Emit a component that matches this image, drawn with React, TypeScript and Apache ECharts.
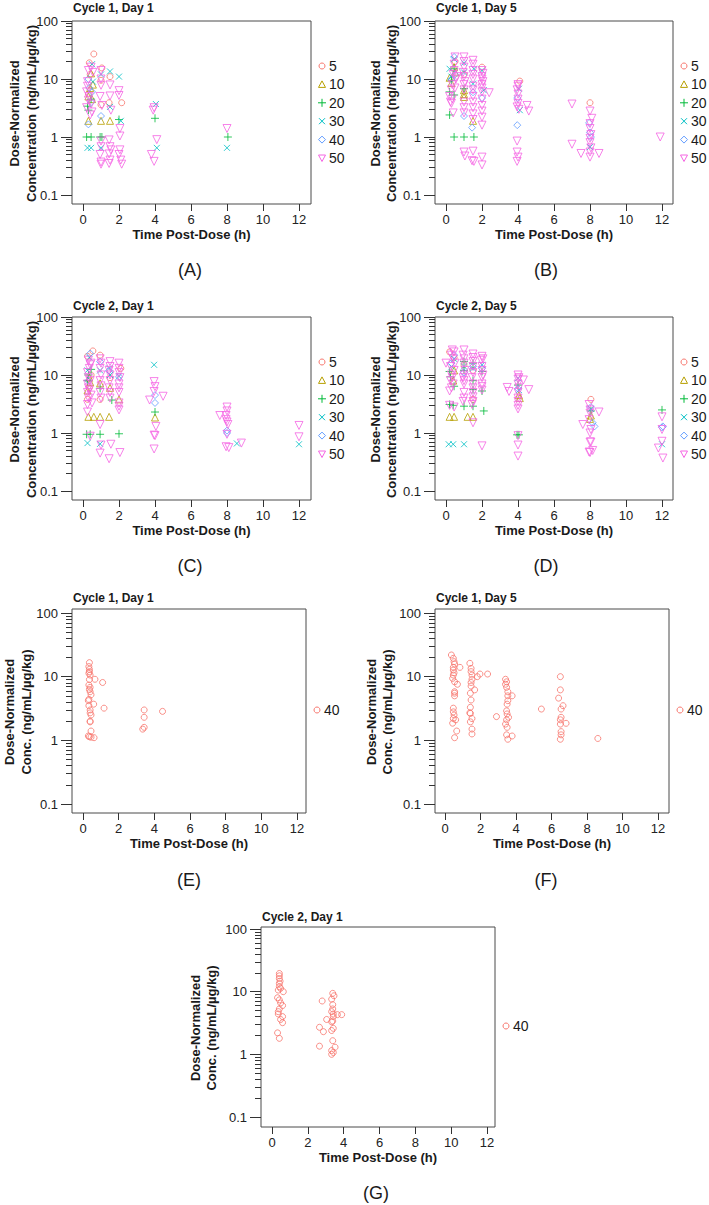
import React, { useEffect, useRef } from "react";
import * as echarts from "echarts";

const DOSES = ["5", "10", "20", "30", "40", "50"];
const DOSE_COLORS = ["#F8766D", "#B79F00", "#00BA38", "#00BFC4", "#619CFF", "#F564E3"];
const SINGLE_DOSE = ["40"];
const SINGLE_COLOR = ["#F8766D"];

// Panel A: Cycle 1, Day 1 (by dose)
const A_5 = [[0.6,27],[0.35,19],[0.4,12],[1.05,15.5],[1.0,9.5],[1.5,11],[1.45,3.9],[2.15,3.9],[0.3,5.5],[1.0,3.6]];
const A_10 = [[0.45,12.5],[0.4,7],[0.3,5],[0.5,4.5],[0.3,1.9],[1.0,1.9],[1.5,1.9],[0.55,8]];
const A_20 = [[0.2,1],[0.45,1],[0.95,1],[1.05,1],[0.3,2.9],[0.25,3.4],[0.45,4.5],[2.0,2],[4.0,2.1],[8.05,1]];
const A_30 = [[0.25,0.65],[0.45,0.65],[0.5,18],[0.55,9],[1.0,12],[1.0,0.65],[1.5,13.5],[1.5,3.3],[2.0,11],[2.1,1.9],[4.05,3.7],[4.1,0.65],[8.0,0.65]];
const A_40 = [[0.3,10],[0.35,7],[0.45,4],[0.5,6],[0.3,1.65],[1.0,2.3]];
const A_50 = [
  [0.3,14],[0.45,16],[0.25,9],[0.2,6],[0.35,5],[0.45,3.7],[0.5,2.7],[0.3,4.3],[0.25,7.5],[0.2,3.2],[0.55,13],[0.4,2.4],
  [1.0,14],[1.0,10],[1.0,7.8],[1.05,3.5],[1.0,0.85],[1.0,0.68],[0.95,0.5],[1.0,0.37],[1.0,0.34],[0.95,5],
  [1.5,7.9],[1.5,5.1],[1.55,2.9],[1.45,0.89],[1.5,0.68],[1.45,0.51],[1.45,0.35],[1.55,0.6],[1.5,0.4],
  [2.0,6.3],[2.0,5.2],[2.05,1.4],[2.05,1.04],[2.05,0.6],[2.1,0.4],[2.15,0.34],[2.0,0.5],
  [3.95,3.2],[3.9,2.9],[4.1,0.9],[3.8,0.5],[3.95,0.38],
  [8.0,1.4]
];

// Panel B: Cycle 1, Day 5
const B_5 = [[0.5,20],[1.0,12],[2.0,16],[4.1,9.2],[8.0,3.9]];
const B_10 = [[0.2,10.5],[0.3,8.5],[0.45,16],[0.5,13],[1.0,6.4],[1.0,4.9],[1.0,5.5],[1.5,1.9]];
const B_20 = [[0.2,2.4],[0.45,1.0],[1.0,1.0],[1.55,1.0],[0.2,6],[0.45,5.3],[0.45,15],[0.3,9.5],[1.0,6.8]];
const B_30 = [[0.2,15],[0.45,22],[0.3,11],[1.0,19],[1.0,13],[1.55,15],[1.5,8.3],[2.0,14],[2.1,6.4],[4.05,6.8],[4.1,2.9],[8.0,0.67]];
const B_40 = [[0.45,24],[0.3,10],[0.5,12],[1.0,2.3],[1.45,1.45],[1.5,5.9],[2.0,4.7],[3.96,4.7],[3.96,1.6],[7.95,1.75],[8.0,1.2],[8.05,1.0]];
const B_50 = [
  [0.2,5],[0.25,4],[0.3,3.8],[0.35,4.5],[0.4,2.6],[0.45,18],[0.5,24],[0.4,12],[0.35,8],[0.3,6.5],[0.55,10],[0.5,7],[0.6,11],[0.45,14],
  [1.0,24],[1.0,20],[1.0,16],[0.95,13],[1.0,11],[1.05,9],[1.0,8],[1.0,6.5],[1.0,4],[1.0,3.2],[1.0,2.6],[1.0,0.55],[1.05,0.47],
  [1.5,21],[1.5,18],[1.5,14],[1.5,12],[1.5,10],[1.5,7.5],[1.5,6.5],[1.5,5],[1.5,4],[1.5,3.2],[1.5,2.5],[1.5,2],[1.5,0.57],[1.45,0.39],[1.55,0.38],
  [2.0,14],[2.05,12.5],[2.0,11],[2.0,10],[2.05,9],[2.0,8],[2.0,7],[2.0,6],[2.0,4.5],[2.0,3.5],[2.0,2.8],[2.0,2.2],[2.0,1.6],[2.0,0.45],[2.0,0.33],[2.4,5.8],
  [4.0,8],[4.0,7.5],[3.95,6.5],[4.0,5.5],[4.0,4.5],[4.0,3.8],[3.95,3.3],[4.05,3],[3.95,0.85],[3.95,0.55],[4.0,0.45],[3.95,0.38],[4.5,3.5],[4.6,2.8],
  [7.0,3.7],[7.0,0.75],[7.5,0.52],
  [8.0,2.8],[8.1,2.1],[8.0,1.7],[8.0,1.4],[8.05,1.1],[8.0,0.95],[8.0,0.8],[8.05,0.65],[8.0,0.55],[8.0,0.45],[8.5,0.52],
  [11.9,1.0]
];

// Panel C: Cycle 2, Day 1
const C_5 = [[0.55,26],[0.25,21],[0.95,22],[0.35,6],[0.25,3.8],[0.95,3.8],[1.5,9],[2.1,13],[0.45,10]];
const C_10 = [[0.25,5.4],[0.4,7.5],[0.3,1.9],[0.6,1.9],[0.95,1.9],[1.45,1.9],[0.95,7.2],[1.5,6],[2.0,3.8],[4.0,1.85],[0.35,9]];
const C_20 = [[0.2,0.95],[0.4,0.95],[0.95,0.95],[2.0,0.97],[0.3,10],[0.45,12.5],[0.95,5.9],[1.6,3.7],[4.0,2.3],[0.25,8]];
const C_30 = [[0.25,0.67],[0.95,0.65],[3.95,15],[0.35,20],[0.95,12],[1.5,10],[2.0,9.5],[8.55,0.66],[12.0,0.64],[0.25,12],[1.45,13]];
const C_40 = [[0.4,23.5],[0.95,17],[1.45,12],[2.0,9.3],[4.0,4.5],[4.0,3.3],[8.0,1.1],[8.0,1.0],[0.3,8]];
const C_50 = [
  [0.3,18],[0.4,15],[0.35,13],[0.25,11],[0.3,9],[0.4,8],[0.25,7],[0.3,6],[0.35,5.5],[0.25,5],[0.45,4.5],[0.3,4],[0.5,3.3],[0.25,3.1],[0.25,2.3],[0.4,0.88],[0.45,16],
  [0.95,19],[1.0,16],[0.95,13],[1.0,10],[0.95,8],[1.0,6.5],[0.95,5],[1.0,4],[0.95,1.4],[1.0,0.62],[0.95,0.45],
  [1.5,17],[1.5,14],[1.45,12],[1.5,10],[1.5,8],[1.45,6],[1.5,5],[1.5,4],[1.55,0.64],[1.45,0.36],
  [2.0,16],[2.0,13],[2.0,11],[2.05,9],[2.0,7],[2.0,6],[2.0,5],[2.0,3.3],[2.0,2.9],[2.0,2.5],[2.05,0.46],
  [3.7,3.7],[3.95,7.7],[4.0,6.3],[3.95,5.2],[4.05,1.3],[3.95,0.92],[4.0,0.9],[3.95,0.53],[4.45,4.3],
  [7.6,2.0],[8.0,2.8],[8.0,2.4],[7.95,2.0],[7.95,1.7],[8.0,1.55],[8.05,1.4],[7.95,0.58],[8.1,0.56],[8.0,0.95],[8.8,0.67],
  [12.0,1.35],[12.0,0.86]
];

// Panel D: Cycle 2, Day 5
const D_5 = [[0.2,25],[0.45,20],[1.0,15],[1.5,3.8],[1.5,12],[8.05,3.8]];
const D_10 = [[0.2,1.9],[0.45,1.9],[1.2,1.9],[1.5,1.9],[0.4,8],[0.45,12],[4.05,4.5],[4.1,4.0],[8.05,2.0],[8.0,1.75]];
const D_20 = [[0.2,11.5],[0.25,9.3],[0.45,6.4],[1.0,17],[1.0,12],[1.5,16],[1.5,8],[1.5,5.6],[2.0,11.5],[2.0,5.3],[2.1,2.4],[0.2,3.1],[0.4,3],[1.0,2.9],[1.5,2.9],[4.0,6.7],[3.95,0.93],[4.05,0.93],[8.05,2.4],[12.0,2.5]];
const D_30 = [[0.15,0.64],[0.4,0.64],[1.0,0.64],[0.45,19],[1.0,14],[1.5,13],[2.0,15],[4.0,8.8],[4.05,5.5],[12.0,0.64],[8.05,2.6],[0.3,14]];
const D_40 = [[0.45,22],[1.0,11],[1.5,14],[2.0,13],[4.0,5.8],[8.05,2.8],[8.15,1.5],[8.25,1.3],[12.0,1.25],[12.05,1.3],[0.3,16]];
const D_50 = [
  [0.0,16],[0.35,27],[0.45,25],[0.3,22],[0.4,19],[0.25,14],[0.45,12],[0.3,10],[0.35,9],[0.25,8],[0.4,7],[0.3,6],[0.2,5.3],[0.2,3],[0.45,2.8],[0.5,16],
  [1.0,27],[0.95,22],[1.0,19],[1.0,16],[1.05,12],[1.0,10],[0.95,9],[1.0,8],[1.0,7],[1.0,5],[1.0,4],[0.95,3.5],
  [1.5,23],[1.5,20],[1.5,17],[1.5,14],[1.5,11],[1.45,9],[1.5,7],[1.5,6],[1.5,5],[1.5,4.2],[1.5,3.5],[1.5,1.5],[1.45,3.1],
  [2.0,21],[2.05,19],[1.95,18],[2.0,14],[2.0,12],[2.05,10],[2.0,9],[2.0,7],[2.0,6.3],[2.0,5.5],[2.0,0.6],
  [4.0,10],[4.05,9],[4.0,8.5],[4.0,7],[4.05,6],[4.0,5],[4.0,4],[4.0,3.5],[4.0,3],[4.0,2.6],[4.0,0.9],[4.0,0.62],[4.0,0.4],[3.4,6.1],[3.5,5.2],[4.6,5.6],[4.3,8.2],
  [7.6,1.4],[7.95,3.1],[8.0,2.5],[8.0,2.2],[7.95,1.7],[8.05,1.15],[8.0,1.0],[8.05,0.7],[8.0,0.7],[7.95,0.47],[8.0,0.46],[8.15,0.5],[8.5,2.3],
  [11.8,0.55],[12.0,1.9],[12.0,1.15],[12.0,0.72],[12.05,0.37]
];

// Panel E: Cycle 1, Day 1 (40)
const E_40 = [[0.36,16.6],[0.33,14.4],[0.36,13],[0.36,12],[0.33,11.3],[0.4,10.6],[0.67,9.1],[1.1,8.1],[0.36,9],[0.33,7.4],[0.4,6.8],[0.36,6.3],[0.4,5.8],[0.45,5.2],[0.6,3.7],[0.33,4.4],[0.3,4.2],[0.33,3.5],[0.4,3.0],[0.4,2.7],[0.45,2.5],[0.4,2.0],[0.4,1.95],[0.45,1.4],[0.3,1.17],[0.36,1.14],[0.45,1.12],[0.62,1.1],[1.18,3.2],[3.43,3.0],[3.43,2.3],[3.43,1.6],[3.35,1.5],[4.46,2.85]];

// Panel F: Cycle 1, Day 5 (40)
const F_40 = [
  [0.36,21.9],[0.47,19.4],[0.51,17.2],[0.54,15.8],[0.47,14],[0.47,12.7],[0.51,11.5],[0.47,10.6],[0.43,9.4],[0.54,8.3],[0.7,7.6],[0.84,14],[0.54,5.8],[0.54,5.5],[0.54,5.0],[0.47,3.2],[0.47,2.8],[0.51,2.5],[0.47,2.2],[0.6,2.1],[0.43,1.86],[0.66,1.4],[0.54,1.1],
  [1.4,16.2],[1.47,13.5],[1.47,12],[1.52,10.6],[1.52,9.1],[1.47,8.1],[1.47,7.1],[1.43,5.5],[1.47,4.3],[1.43,3.3],[1.4,2.7],[1.43,2.65],[1.52,2.2],[1.43,1.95],[1.52,1.5],[1.52,1.26],[1.67,6.2],[1.82,10],[1.97,11],[2.4,11],[2.9,2.36],
  [3.41,9.1],[3.47,8.3],[3.41,7.6],[3.47,6.8],[3.54,5.8],[3.54,5.0],[3.54,4.2],[3.5,3.7],[3.47,2.9],[3.5,2.6],[3.58,2.3],[3.47,2.1],[3.41,1.8],[3.5,1.6],[3.47,1.22],[3.54,1.04],[3.78,1.17],[3.78,5.0],
  [5.43,3.1],
  [6.5,10],[6.5,6.2],[6.4,4.6],[6.65,3.5],[6.54,3.1],[6.54,2.3],[6.5,2.1],[6.5,1.8],[6.82,1.85],[6.54,1.37],[6.54,1.22],[6.5,1.04],
  [8.61,1.07]
];

// Panel G: Cycle 2, Day 1 (40)
const G_40 = [
  [0.41,19.5],[0.41,17.9],[0.41,16.2],[0.45,14.7],[0.41,13.5],[0.41,12],[0.48,11.3],[0.35,10.6],[0.63,10],[0.31,8],[0.41,7.4],[0.48,6.6],[0.59,6.0],[0.59,4.0],[0.41,5.3],[0.35,4.8],[0.35,4.4],[0.48,3.6],[0.59,3.2],[0.31,2.2],[0.41,1.8],
  [2.65,2.7],[2.87,2.3],[2.8,7.1],[2.65,1.35],[3.05,3.6],
  [3.39,9.4],[3.46,8.6],[3.33,7.6],[3.39,6.2],[3.39,5.3],[3.33,4.8],[3.42,4.4],[3.42,4.0],[3.39,3.4],[3.33,3.3],[3.42,2.6],[3.33,2.4],[3.39,1.65],[3.52,1.3],[3.33,1.15],[3.33,1.0],[3.42,1.07],[3.65,4.3],[3.89,4.3]
];

const X_AXIS_TITLE = "Time Post-Dose (h)";
const Y_TITLE_TOP = "Dose-Normalized";
const Y_TITLE_LONG = "Concentration (ng/mL/µg/kg)";
const Y_TITLE_SHORT = "Conc. (ng/mL/µg/kg)";

type Panel = {
  title: string; tag: string; yLine2: string;
  sets: number[][][]; doses: string[]; colors: string[]; multi: boolean;
  box: number[]; plot: number[]; titleY: number; tagPos: number[];
  yTitleDx: number[]; legendDy: number;
};

const PANELS: Panel[] = [
  { title: "Cycle 1, Day 1", tag: "(A)", yLine2: Y_TITLE_LONG, sets: [A_5, A_10, A_20, A_30, A_40, A_50], doses: DOSES, colors: DOSE_COLORS, multi: true,
    box: [72, 21, 311, 204], plot: [83, 21, 299, 195], titleY: 8, tagPos: [190, 270], yTitleDx: [58, 41], legendDy: 45 },
  { title: "Cycle 1, Day 5", tag: "(B)", yLine2: Y_TITLE_LONG, sets: [B_5, B_10, B_20, B_30, B_40, B_50], doses: DOSES, colors: DOSE_COLORS, multi: true,
    box: [435, 21, 673, 204], plot: [446, 21, 662, 195], titleY: 8, tagPos: [546, 270], yTitleDx: [60, 44], legendDy: 45 },
  { title: "Cycle 2, Day 1", tag: "(C)", yLine2: Y_TITLE_LONG, sets: [C_5, C_10, C_20, C_30, C_40, C_50], doses: DOSES, colors: DOSE_COLORS, multi: true,
    box: [72, 317, 311, 500], plot: [83, 317, 299, 491], titleY: 306, tagPos: [190, 566], yTitleDx: [58, 41], legendDy: 45 },
  { title: "Cycle 2, Day 5", tag: "(D)", yLine2: Y_TITLE_LONG, sets: [D_5, D_10, D_20, D_30, D_40, D_50], doses: DOSES, colors: DOSE_COLORS, multi: true,
    box: [435, 317, 673, 500], plot: [446, 317, 662, 491], titleY: 306, tagPos: [546, 566], yTitleDx: [60, 44], legendDy: 45 },
  { title: "Cycle 1, Day 1", tag: "(E)", yLine2: Y_TITLE_SHORT, sets: [E_40], doses: SINGLE_DOSE, colors: SINGLE_COLOR, multi: false,
    box: [72, 609, 306, 813], plot: [83, 613, 297, 804], titleY: 598, tagPos: [189, 880], yTitleDx: [63, 46], legendDy: -1 },
  { title: "Cycle 1, Day 5", tag: "(F)", yLine2: Y_TITLE_SHORT, sets: [F_40], doses: SINGLE_DOSE, colors: SINGLE_COLOR, multi: false,
    box: [435, 609, 669, 813], plot: [445, 613, 658, 804], titleY: 598, tagPos: [546, 880], yTitleDx: [64, 48], legendDy: -1 },
  { title: "Cycle 2, Day 1", tag: "(G)", yLine2: Y_TITLE_SHORT, sets: [G_40], doses: SINGLE_DOSE, colors: SINGLE_COLOR, multi: false,
    box: [261, 927, 495, 1127], plot: [272, 929, 487, 1117], titleY: 917, tagPos: [376, 1193], yTitleDx: [66, 50], legendDy: -1 },
];

const FONT = "'Liberation Sans', Arial, Helvetica, sans-serif";

function symbolFor(idx: number, multi: boolean) {
  if (!multi) return { symbol: "circle", symbolSize: 6, symbolRotate: 0 };
  switch (idx) {
    case 0: return { symbol: "circle", symbolSize: 6, symbolRotate: 0 };
    case 1: return { symbol: "triangle", symbolSize: 7, symbolRotate: 0 };
    case 2: return { symbol: "path://M0,5L10,5M5,0L5,10", symbolSize: 8, symbolRotate: 0 };
    case 3: return { symbol: "path://M0,0L10,10M10,0L0,10", symbolSize: 6, symbolRotate: 0 };
    case 4: return { symbol: "diamond", symbolSize: 7, symbolRotate: 0 };
    default: return { symbol: "triangle", symbolSize: 8, symbolRotate: 180 };
  }
}

function legendIcon(idx: number, multi: boolean, cx: number, cy: number, color: string): any {
  const st = { fill: "none", stroke: color, lineWidth: 1 };
  const r = 3.5;
  const kind = multi ? idx : 0;
  if (kind === 0) return { type: "circle", shape: { cx, cy, r: 3 }, style: st };
  if (kind === 1) return { type: "polygon", shape: { points: [[cx - r, cy + 3], [cx + r, cy + 3], [cx, cy - 3.5]] }, style: st };
  if (kind === 2) return { type: "group", children: [
    { type: "line", shape: { x1: cx - 4, y1: cy, x2: cx + 4, y2: cy }, style: st },
    { type: "line", shape: { x1: cx, y1: cy - 4, x2: cx, y2: cy + 4 }, style: st }] };
  if (kind === 3) return { type: "group", children: [
    { type: "line", shape: { x1: cx - 3, y1: cy - 3, x2: cx + 3, y2: cy + 3 }, style: st },
    { type: "line", shape: { x1: cx + 3, y1: cy - 3, x2: cx - 3, y2: cy + 3 }, style: st }] };
  if (kind === 4) return { type: "polygon", shape: { points: [[cx, cy - r], [cx + r, cy], [cx, cy + r], [cx - r, cy]] }, style: st };
  return { type: "polygon", shape: { points: [[cx - r, cy - 3], [cx + r, cy - 3], [cx, cy + 3.5]] }, style: st };
}

function textEl(x: number, y: number, text: string, size: number, bold: boolean, align: string, rotation = 0): any {
  return {
    type: "text", x, y, rotation,
    style: {
      text, fontSize: size, fontWeight: bold ? "bold" : "normal", fontFamily: FONT, fill: "#1a1a1a",
      align, textAlign: align, verticalAlign: "middle", textVerticalAlign: "middle",
    },
  };
}

function buildOption() {
  const grids: any[] = [];
  const xAxes: any[] = [];
  const yAxes: any[] = [];
  const series: any[] = [];
  const graphics: any[] = [];

  PANELS.forEach((p, i) => {
    const [bl, bt, br, bb] = p.box;
    const [pl, pt, pr, pb] = p.plot;
    const fg = i * 2;
    const pg = i * 2 + 1;
    grids.push({ left: bl, top: bt, width: br - bl, height: bb - bt, show: true, borderColor: "#4a4a4a", borderWidth: 1, backgroundColor: "transparent" });
    grids.push({ left: pl, top: pt, width: pr - pl, height: pb - pt, show: false });
    xAxes.push({ gridIndex: fg, type: "value", show: false, min: 0, max: 1 });
    yAxes.push({ gridIndex: fg, type: "value", show: false, min: 0, max: 1 });
    xAxes.push({
      gridIndex: pg, type: "value", min: 0, max: 12, interval: 2, position: "bottom", offset: bb - pb,
      axisLine: { show: false, onZero: false },
      axisTick: { show: true, length: 7, lineStyle: { color: "#333", width: 1 } },
      axisLabel: { fontSize: 13, color: "#222", fontFamily: FONT, margin: 9 },
      splitLine: { show: false },
    });
    yAxes.push({
      gridIndex: pg, type: "log", logBase: 10, min: 0.1, max: 100, position: "left", offset: pl - bl,
      axisLine: { show: false, onZero: false },
      axisTick: { show: true, length: 11, lineStyle: { color: "#333", width: 1 } },
      minorTick: { show: true, splitNumber: 9, length: 6, lineStyle: { color: "#333", width: 1 } },
      axisLabel: { fontSize: 13, color: "#222", fontFamily: FONT, margin: 14, formatter: (v: number) => String(+Number(v).toPrecision(6)) },
      splitLine: { show: false }, minorSplitLine: { show: false },
    });
    p.sets.forEach((data, k) => {
      const sym = symbolFor(k, p.multi);
      series.push({
        type: "scatter", name: p.tag + " " + p.doses[k], xAxisIndex: pg, yAxisIndex: pg, data, clip: false,
        symbol: sym.symbol, symbolSize: sym.symbolSize, symbolRotate: sym.symbolRotate,
        itemStyle: { color: "rgba(0,0,0,0)", borderColor: p.colors[k], borderWidth: 1 },
        emphasis: { disabled: true }, z: 2 + k,
      });
    });
    // titles
    graphics.push(textEl(bl + 1, p.titleY, p.title, 12, true, "left"));
    graphics.push(textEl((bl + br) / 2, bb + 30, X_AXIS_TITLE, 13, true, "center"));
    const cy = (bt + bb) / 2 + 1;
    graphics.push(textEl(bl - p.yTitleDx[0], cy, Y_TITLE_TOP, 13, true, "center", Math.PI / 2));
    graphics.push(textEl(bl - p.yTitleDx[1], cy, p.yLine2, 13, true, "center", Math.PI / 2));
    graphics.push(textEl(p.tagPos[0], p.tagPos[1], p.tag, 18, false, "center"));
    // legend
    p.doses.forEach((d, k) => {
      const ly = p.multi ? bt + p.legendDy + k * 18.4 : (bt + bb) / 2 + p.legendDy;
      const lx = br + 11;
      graphics.push(legendIcon(k, p.multi, lx, ly, p.colors[k]));
      graphics.push(textEl(lx + 7, ly, d, 14, false, "left"));
    });
  });

  return {
    animation: false,
    backgroundColor: "#ffffff",
    grid: grids,
    xAxis: xAxes,
    yAxis: yAxes,
    series,
    graphic: graphics,
  };
}

export default function App() {
  const ref = useRef<HTMLDivElement>(null);
  useEffect(() => {
    document.body.style.margin = "0";
    if (!ref.current) return;
    const chart = echarts.init(ref.current, undefined, { renderer: "svg" });
    chart.setOption(buildOption() as any);
    return () => chart.dispose();
  }, []);
  return <div ref={ref} style={{ width: 709, height: 1205 }} />;
}
